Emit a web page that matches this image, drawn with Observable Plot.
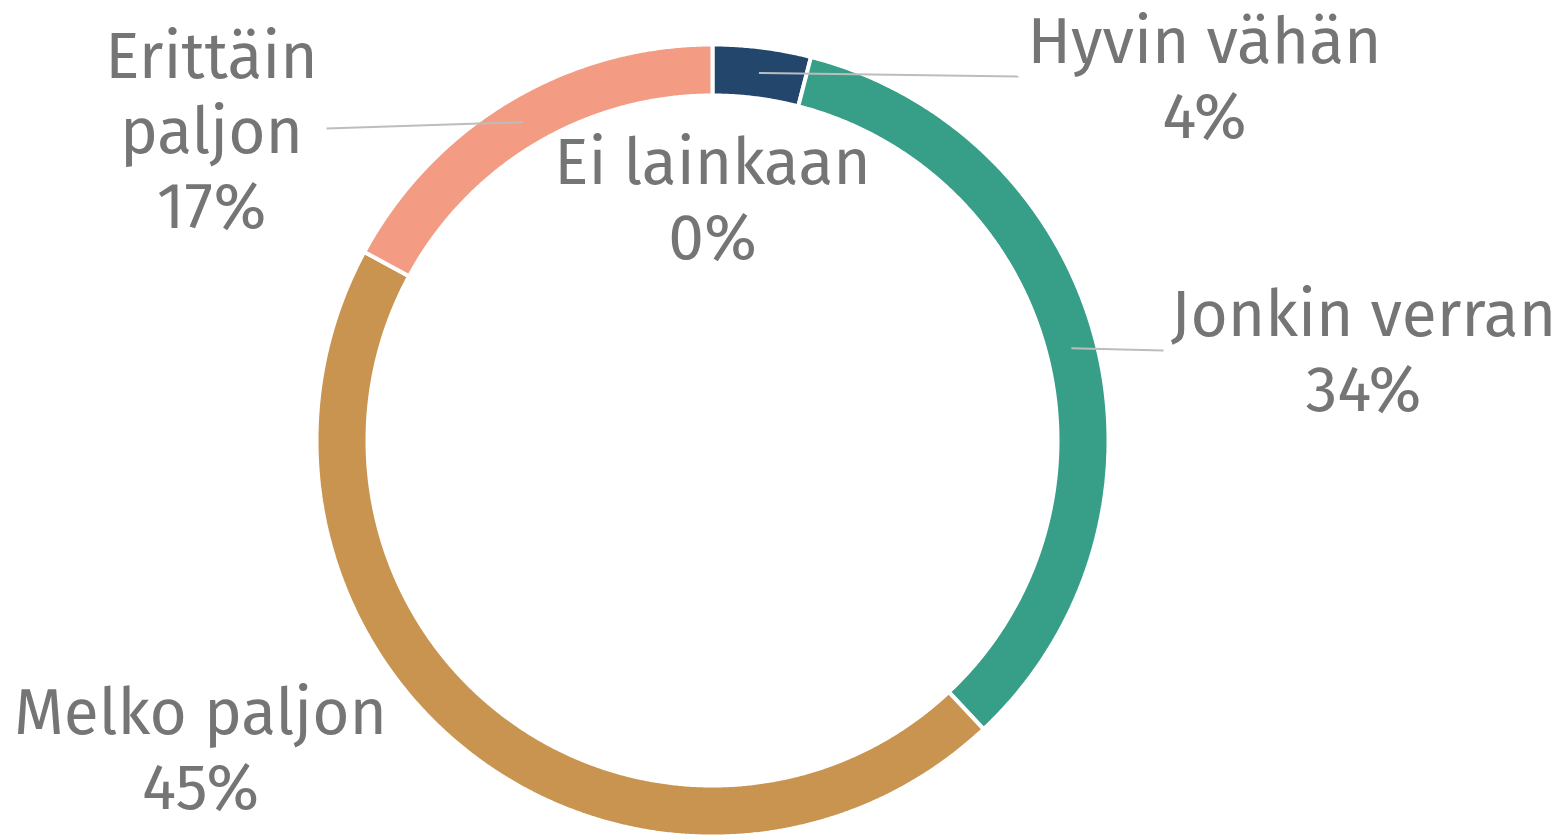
<!DOCTYPE html>
<html>
<head>
<meta charset="utf-8">
<script src="https://cdn.jsdelivr.net/npm/d3@7"></script>
<script src="https://cdn.jsdelivr.net/npm/@observablehq/plot@0.6"></script>
<style>
  html, body { margin: 0; padding: 0; background: #fff; overflow: hidden; }
</style>
</head>
<body>
<div id="chart"></div>
<script>
// ---- data ----
const categories = ["Ei lainkaan", "Hyvin vähän", "Jonkin verran", "Melko paljon", "Erittäin paljon"];
const values = [0, 4.0, 34.0, 44.9, 17.1];
const percentLabels = ["0%", "4%", "34%", "45%", "17%"];
const labelTexts = ["Ei lainkaan", "Hyvin vähän", "Jonkin verran", "Melko paljon", "Erittäin\npaljon"];
const colors = ["#9e9e9e", "#23466c", "#379e87", "#c89450", "#f39b83"];

// ---- layout (pixels) ----
const W = 1565, H = 836;
const cx = 712, cy = 440;
const rOuter = 396, rInner = 345;
// label anchor: center x, baseline of last line (page px); leader end (page px) or null
const labelLayout = [
  {x: 712, y: 258, end: null},
  {x: 1204, y: 137, end: [1018, 76]},
  {x: 1363, y: 410, end: [1163, 350]},
  {x: 200, y: 808, end: null},
  {x: 211, y: 227, end: [326, 128]}
];

// ---- geometry from data ----
const total = d3.sum(values);
const toData = ([px, py]) => [px - cx, cy - py];
let cum = 0;
const polyPoints = [];
const centroids = [];
values.forEach((v, i) => {
  const a0 = 2 * Math.PI * cum / total;
  cum += v;
  const a1 = 2 * Math.PI * cum / total;
  const am = (a0 + a1) / 2;
  const rm = (rOuter + rInner) / 2;
  centroids.push([rm * Math.sin(am), rm * Math.cos(am)]);
  if (v <= 0) return;
  const n = Math.max(2, Math.ceil((a1 - a0) / 0.005));
  const pts = [];
  for (let k = 0; k <= n; k++) {
    const a = a0 + (a1 - a0) * k / n;
    pts.push([rOuter * Math.sin(a), rOuter * Math.cos(a)]);
  }
  for (let k = n; k >= 0; k--) {
    const a = a0 + (a1 - a0) * k / n;
    pts.push([rInner * Math.sin(a), rInner * Math.cos(a)]);
  }
  pts.push(pts[0]);
  pts.forEach(([x, y]) => polyPoints.push({cat: categories[i], x, y}));
});

const leaders = [];
labelLayout.forEach((l, i) => {
  if (!l.end) return;
  const [ex, ey] = toData(l.end);
  leaders.push({cat: categories[i], x1: centroids[i][0], y1: centroids[i][1], x2: ex, y2: ey});
});

const labels = categories.map((c, i) => {
  const [x, y] = toData([labelLayout[i].x, labelLayout[i].y]);
  return {cat: c, x, y, text: labelTexts[i] + "\n" + percentLabels[i]};
});

const plot = Plot.plot({
  width: W,
  height: H,
  margin: 0,
  x: {domain: [-cx, W - cx], axis: null},
  y: {domain: [cy - H, cy], axis: null},
  color: {domain: categories, range: colors},
  style: {background: "#fff"},
  marks: [
    Plot.line(polyPoints, {
      x: "x", y: "y", z: "cat", fill: "cat",
      stroke: "#ffffff", strokeWidth: 4, strokeLinejoin: "miter", curve: "linear"
    }),
    Plot.link(leaders, {
      x1: "x1", y1: "y1", x2: "x2", y2: "y2",
      stroke: "#bdbdbd", strokeWidth: 2
    }),
    Plot.text(labels, {
      x: "x", y: "y", text: "text",
      textAnchor: "middle", lineAnchor: "bottom",
      fontSize: 64, lineHeight: 1.17,
      fill: "#757575",
      fontFamily: "'Fira Sans', 'Open Sans', sans-serif"
    })
  ]
});
document.getElementById("chart").appendChild(plot);
</script>
</body>
</html>
